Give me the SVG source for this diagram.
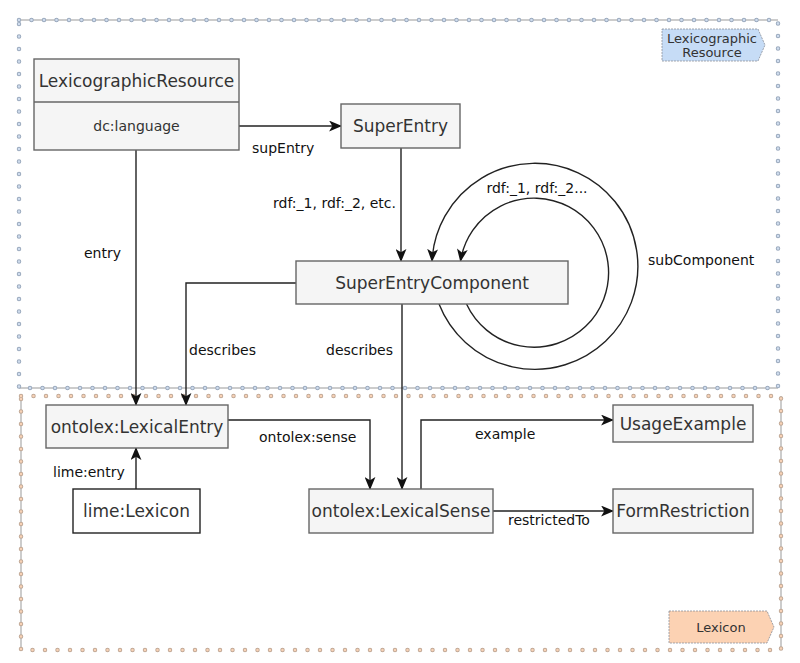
<svg xmlns="http://www.w3.org/2000/svg" width="800" height="663" viewBox="0 0 800 663">
<style>
text{font-family:"DejaVu Sans","Liberation Sans",sans-serif;fill:#333}
.box{fill:#f5f5f5;stroke:#666;stroke-width:1.4}
.t{font-size:17px;text-anchor:middle;dominant-baseline:central}
.s{font-size:14px;text-anchor:middle;dominant-baseline:central}
.lbl{font-size:14px;fill:#111;dominant-baseline:central}
.edge{fill:none;stroke:#222;stroke-width:1.4}
.bline{fill:none;stroke:#999;stroke-width:1}
.dotO{fill:none;stroke-width:4.5;stroke-linecap:round;stroke-dasharray:0 12.5}
.dotI{fill:none;stroke-width:2.6;stroke-linecap:round;stroke-dasharray:0 12.5}
</style>
<defs>
<marker id="arr" viewBox="0 0 12 10" refX="11" refY="5" markerWidth="13" markerHeight="11" markerUnits="userSpaceOnUse" orient="auto">
<path d="M0,0 L12,5 L0,10 L3,5 Z" fill="#111"/>
</marker>
</defs>
<rect width="800" height="663" fill="#fff"/>
<g id="region-lexicographic">
<path class="bline" d="M19,20 H778 M19,388 H778"/>
<path class="dotO" stroke="#9aa9bd" d="M19,20 H778 V388 H19 Z"/>
<path class="dotI" stroke="#cfdcee" d="M19,20 H778 V388 H19 Z"/>
<path d="M662,29 L758,29 L765,45 L758,61 L662,61 Z" fill="#c6dcf6" stroke="#8a8f99" stroke-width="0.8" stroke-dasharray="2 1"/>
<text x="712" y="38" font-size="13" text-anchor="middle" dominant-baseline="central">Lexicographic</text>
<text x="712" y="52" font-size="13" text-anchor="middle" dominant-baseline="central">Resource</text>
</g>
<g id="region-lexicon">
<path class="bline" d="M21,396 V650 M781,396 V650"/>
<path class="dotO" stroke="#c0a896" d="M21,396 H781 V650 H21 Z"/>
<path class="dotI" stroke="#f8d2b6" d="M21,396 H781 V650 H21 Z"/>
<path d="M669,611 L767,611 L774,627 L767,643 L669,643 Z" fill="#fcd2b3" stroke="#8a8f99" stroke-width="0.8" stroke-dasharray="2 1"/>
<text x="721" y="627" font-size="13" text-anchor="middle" dominant-baseline="central">Lexicon</text>
</g>
<g id="connectors">
<path class="edge" d="M239,126 H341" marker-end="url(#arr)"/>
<path class="edge" d="M136,150 V405" marker-end="url(#arr)"/>
<path class="edge" d="M401,148 V261" marker-end="url(#arr)"/>
<path class="edge" d="M296,283 H186 V405" marker-end="url(#arr)"/>
<path class="edge" d="M402,304 V489" marker-end="url(#arr)"/>
<path class="edge" d="M228,420 H370 V489" marker-end="url(#arr)"/>
<path class="edge" d="M136,489 V448" marker-end="url(#arr)"/>
<path class="edge" d="M421,489 V420 H613" marker-end="url(#arr)"/>
<path class="edge" d="M493,511 H613" marker-end="url(#arr)"/>
<path class="edge" d="M439,304 A103,103 0 1 0 432,261" marker-end="url(#arr)"/>
<path class="edge" d="M466.5,304 A74.5,74.5 0 1 0 460.5,261" marker-end="url(#arr)"/>
<text class="lbl" x="252" y="148">supEntry</text>
<text class="lbl" x="84" y="253">entry</text>
<text class="lbl" x="396" y="203" text-anchor="end">rdf:_1, rdf:_2, etc.</text>
<text class="lbl" x="537" y="188" text-anchor="middle">rdf:_1, rdf:_2...</text>
<text class="lbl" x="648" y="260">subComponent</text>
<text class="lbl" x="189" y="350">describes</text>
<text class="lbl" x="326" y="350">describes</text>
<text class="lbl" x="259" y="437">ontolex:sense</text>
<text class="lbl" x="53" y="472">lime:entry</text>
<text class="lbl" x="475" y="434">example</text>
<text class="lbl" x="508" y="520">restrictedTo</text>
</g>
<g id="node-lexicographic-resource">
<rect class="box" x="34" y="59" width="205" height="91"/>
<line x1="34" y1="102" x2="239" y2="102" stroke="#666" stroke-width="1.4"/>
<text class="t" x="136.5" y="81">LexicographicResource</text>
<text class="s" x="136.5" y="126">dc:language</text>
</g>
<g id="node-superentry">
<rect class="box" x="341" y="104" width="119" height="44"/>
<text class="t" x="400.5" y="126">SuperEntry</text>
</g>
<g id="node-superentrycomponent">
<rect class="box" x="296" y="261" width="272" height="43"/>
<text class="t" x="432" y="282.5">SuperEntryComponent</text>
</g>
<g id="node-lexicalentry">
<rect class="box" x="46" y="405" width="182" height="43"/>
<text class="t" x="137" y="426.5">ontolex:LexicalEntry</text>
</g>
<g id="node-lexicon">
<rect x="73" y="489" width="127" height="44" fill="#fff" stroke="#222" stroke-width="1.4"/>
<text class="t" x="136.5" y="511">lime:Lexicon</text>
</g>
<g id="node-lexicalsense">
<rect class="box" x="309" y="489" width="184" height="44"/>
<text class="t" x="401" y="511">ontolex:LexicalSense</text>
</g>
<g id="node-usageexample">
<rect class="box" x="613" y="405" width="140" height="37"/>
<text class="t" x="683" y="423.5">UsageExample</text>
</g>
<g id="node-formrestriction">
<rect class="box" x="613" y="489" width="140" height="44"/>
<text class="t" x="683" y="511">FormRestriction</text>
</g>
</svg>
